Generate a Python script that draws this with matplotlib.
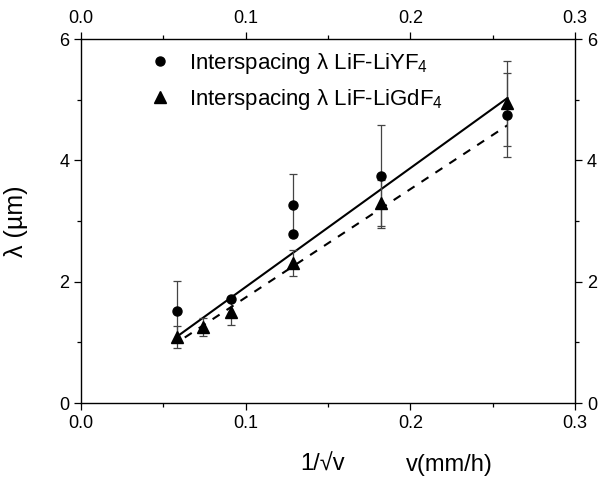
import numpy as np
import matplotlib
matplotlib.use("Agg")
import matplotlib.pyplot as plt
from matplotlib.ticker import MultipleLocator
from matplotlib.lines import Line2D

plt.rcParams["font.family"] = ["Liberation Sans", "DejaVu Sans"]
plt.rcParams["mathtext.fontset"] = "custom"
plt.rcParams["mathtext.rm"] = "Liberation Sans"
plt.rcParams["mathtext.it"] = "Liberation Sans"

# LiF-LiYF4 (circles)
x_yf = [0.058, 0.091, 0.129, 0.129, 0.182, 0.259]
y_yf = [1.52, 1.72, 2.79, 3.27, 3.74, 4.75]
e_yf = [0.50, 0.0, 0.0, 0.50, 0.85, 0.70]

# LiF-LiGdF4 (triangles)
x_gd = [0.058, 0.0743, 0.091, 0.129, 0.182, 0.259]
y_gd = [1.09, 1.25, 1.50, 2.31, 3.30, 4.94]
e_gd = [0.18, 0.15, 0.22, 0.21, 0.38, 0.70]

# linear fits
fit_x = [0.058, 0.259]
fit_yf = [1.09, 5.03]
fit_x_gd = [0.063, 0.259]
fit_gd = [1.08, 4.58]

labels = ["Interspacing λ LiF-LiYF$_4$", "Interspacing λ LiF-LiGdF$_4$"]

fig = plt.figure(figsize=(5.98, 4.8), dpi=100)
ax = fig.add_axes([0.1355, 0.1604, 0.826, 0.758])

ax.plot(fit_x, fit_yf, "k-", lw=1.5)
ax.plot(fit_x_gd, fit_gd, "k--", lw=1.5, dashes=(4, 4))
ax.errorbar(x_yf, y_yf, yerr=e_yf, fmt="o", color="k", ms=6.5, ecolor="#444444",
            elinewidth=0.9, capsize=3, capthick=0.9)
ax.errorbar(x_gd, y_gd, yerr=e_gd, fmt="^", color="k", ms=8.5, ecolor="#444444",
            elinewidth=0.9, capsize=3, capthick=0.9)

ax.set_xlim(0, 0.3)
ax.set_ylim(0, 6)
ax.xaxis.set_major_locator(MultipleLocator(0.1))
ax.xaxis.set_minor_locator(MultipleLocator(0.05))
ax.yaxis.set_major_locator(MultipleLocator(2))
ax.yaxis.set_minor_locator(MultipleLocator(1))
ax.xaxis.set_major_formatter(lambda v, p: f"{v:.1f}")
ax.tick_params(which="both", direction="out", top=True, right=True,
               labeltop=True, labelright=True, labelsize=13, width=0.9)
ax.tick_params(which="major", length=5)
ax.tick_params(which="minor", length=3)
for s in ax.spines.values():
    s.set_linewidth(1.0)

ax.set_ylabel("λ (µm)", fontsize=18)
ax.yaxis.set_label_coords(-0.108, 0.5)
fig.text(0.540, 0.031, "1/√v", fontsize=17, ha="center", va="center")
fig.text(0.751, 0.031, "v(mm/h)", fontsize=17, ha="center", va="center")

handles = [Line2D([], [], ls="none", marker="o", color="k", ms=6.5),
           Line2D([], [], ls="none", marker="^", color="k", ms=8.5)]
ax.legend(handles, labels, loc="upper left", bbox_to_anchor=(0.097, 1.022),
          frameon=False, fontsize=16, handletextpad=0.8, labelspacing=0.5,
          handlelength=1.0, numpoints=1)

fig.savefig("out.png", dpi=100)
